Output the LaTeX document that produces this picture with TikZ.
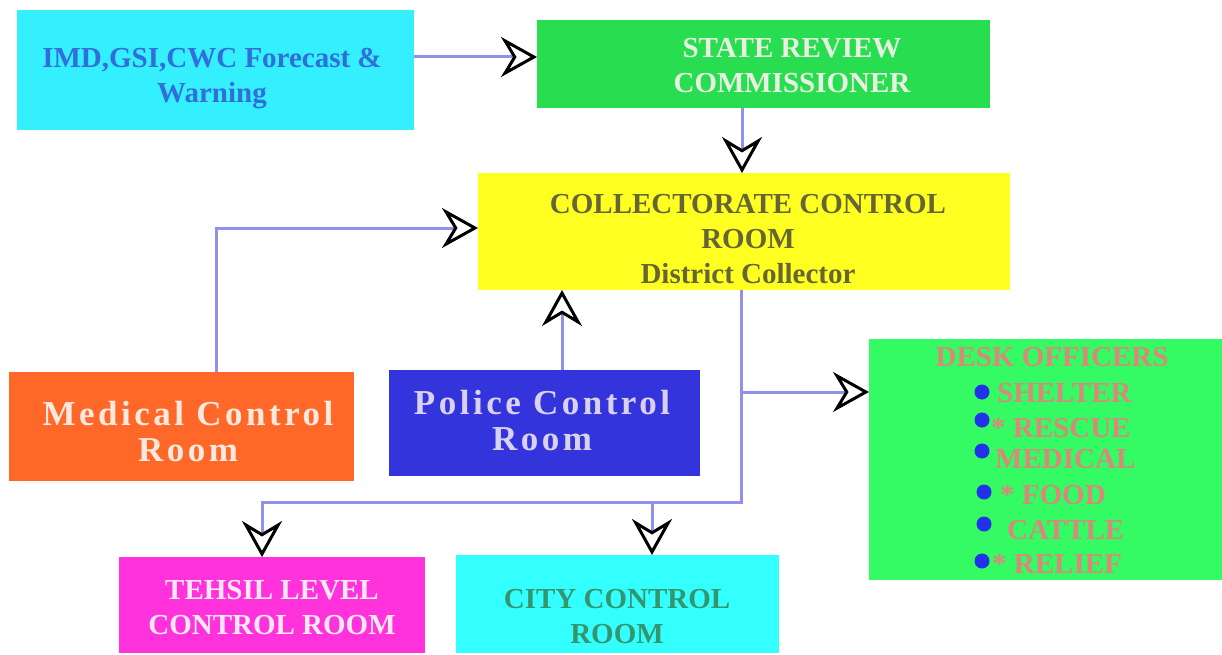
\documentclass[tikz,border=0pt]{standalone}
\usepackage{fontspec}
\setmainfont{Liberation Serif}
\usetikzlibrary{arrows.meta}
\definecolor{imdfill}{RGB}{52,240,255}
\definecolor{imdtext}{RGB}{48,110,220}
\definecolor{statefill}{RGB}{40,222,80}
\definecolor{statetext}{RGB}{232,240,226}
\definecolor{collfill}{RGB}{255,255,34}
\definecolor{colltext}{RGB}{102,102,51}
\definecolor{medfill}{RGB}{255,104,40}
\definecolor{medtext}{RGB}{255,232,222}
\definecolor{polfill}{RGB}{52,52,220}
\definecolor{poltext}{RGB}{216,210,240}
\definecolor{deskfill}{RGB}{52,250,100}
\definecolor{desktext}{RGB}{218,136,122}
\definecolor{bulletblue}{RGB}{34,50,235}
\definecolor{tehfill}{RGB}{255,50,220}
\definecolor{tehtext}{RGB}{255,232,248}
\definecolor{cityfill}{RGB}{52,255,255}
\definecolor{citytext}{RGB}{52,150,110}
\definecolor{lineblue}{RGB}{145,145,235}
\newfontfamily\widefont[LetterSpace=10]{Liberation Serif}
\begin{document}
\begin{tikzpicture}[x=1pt,y=-1pt,
  box/.style={draw=none, inner sep=0pt, outer sep=0pt},
  txt/.style={font=\bfseries\fontsize{29}{35}\selectfont, align=center, inner sep=0pt},
  bigtxt/.style={font=\widefont\bfseries\fontsize{35}{36}\selectfont, align=center, inner sep=0pt},
  desktxt/.style={font=\bfseries\fontsize{29}{35}\selectfont, text=desktext, inner sep=0pt, anchor=west},
  bul/.style={circle, fill=bulletblue, inner sep=0pt, minimum size=15pt},
  ln/.style={draw=lineblue, line width=3pt},
  arr/.style={ln, -{Stealth[length=36pt,width=40pt,inset=12pt,color=black,fill=white,line width=3pt]}}
]
\useasboundingbox (0,0) rectangle (1222,655);

% boxes
\node[box, fill=imdfill, minimum width=397pt, minimum height=120pt] (imd) at (215.5,70) {};
\node[box, fill=statefill, minimum width=453pt, minimum height=88pt] (state) at (763.5,64) {};
\node[box, fill=collfill, minimum width=532pt, minimum height=117pt] (coll) at (744,231.5) {};
\node[box, fill=medfill, minimum width=345pt, minimum height=109pt] (med) at (181.5,426.5) {};
\node[box, fill=polfill, minimum width=311pt, minimum height=106pt] (police) at (544.5,423) {};
\node[box, fill=deskfill, minimum width=353pt, minimum height=241pt] (desk) at (1045.5,459.5) {};
\node[box, fill=tehfill, minimum width=306pt, minimum height=96pt] (tehsil) at (272,605) {};
\node[box, fill=cityfill, minimum width=323pt, minimum height=98pt] (city) at (617.5,604) {};

% texts
\node[txt, text=imdtext] (imdT) at (212,79) {IMD,GSI,CWC Forecast \&\\Warning};
\node[txt, text=statetext] (stateT) at (792,66) {STATE REVIEW\\COMMISSIONER};
\node[txt, text=colltext] (collT) at (748,239) {COLLECTORATE CONTROL\\ROOM\\District Collector};
\node[bigtxt, text=medtext] (medT) at (188,432) {Medical Control\\Room};
\node[bigtxt, text=poltext] (polT) at (542,421) {Police Control\\Room};
\node[txt, text=tehtext] (tehT) at (272,608) {TEHSIL LEVEL\\CONTROL ROOM};
\node[txt, text=citytext] (cityT) at (617,617) {CITY CONTROL\\ROOM};

% desk officers
\node[font=\bfseries\fontsize{29}{35}\selectfont, text=desktext, inner sep=0pt] (deskT) at (1052,357) {DESK OFFICERS};
\node[bul] (b1) at (982,392) {};
\node[bul] (b2) at (982,420) {};
\node[bul] (b3) at (982,451) {};
\node[bul] (b4) at (984,492) {};
\node[bul] (b5) at (984,524) {};
\node[bul] (b6) at (982,561) {};
\node[desktxt] (d1) at (997,393) {SHELTER};
\node[desktxt] (d2) at (991,428) {* RESCUE};
\node[desktxt] (d3) at (995,459) {MEDICAL};
\node[desktxt] (d4) at (1000,495) {* FOOD};
\node[desktxt] (d5) at (1007,530) {CATTLE};
\node[desktxt] (d6) at (992,564) {* RELIEF};

% helper coordinates
\coordinate (yimd) at (0,57);
\coordinate (xstate) at (742,0);
\coordinate (xtrunk) at (741,0);
\coordinate (ybus) at (0,502);
\coordinate (ydesk) at (0,392);
\coordinate (xteh) at (262,0);
\coordinate (xcity) at (652,0);
\coordinate (xmed) at (216,0);
\coordinate (ymed) at (0,228);
\coordinate (xpol) at (562,0);

% connectors
\draw[arr] (imd.east |- yimd) -- (state.west |- yimd);
\draw[arr] (state.south -| xstate) -- (coll.north -| xstate);
\draw[arr] (coll.south -| xtrunk) -- (xtrunk |- ybus) -| (tehsil.north -| xteh);
\draw[arr] (xcity |- ybus) -- (city.north -| xcity);
\draw[arr] (xtrunk |- ydesk) -- (desk.west |- ydesk);
\draw[arr] (med.north -| xmed) |- (coll.west |- ymed);
\draw[arr] (police.north -| xpol) -- (coll.south -| xpol);
\end{tikzpicture}
\end{document}
